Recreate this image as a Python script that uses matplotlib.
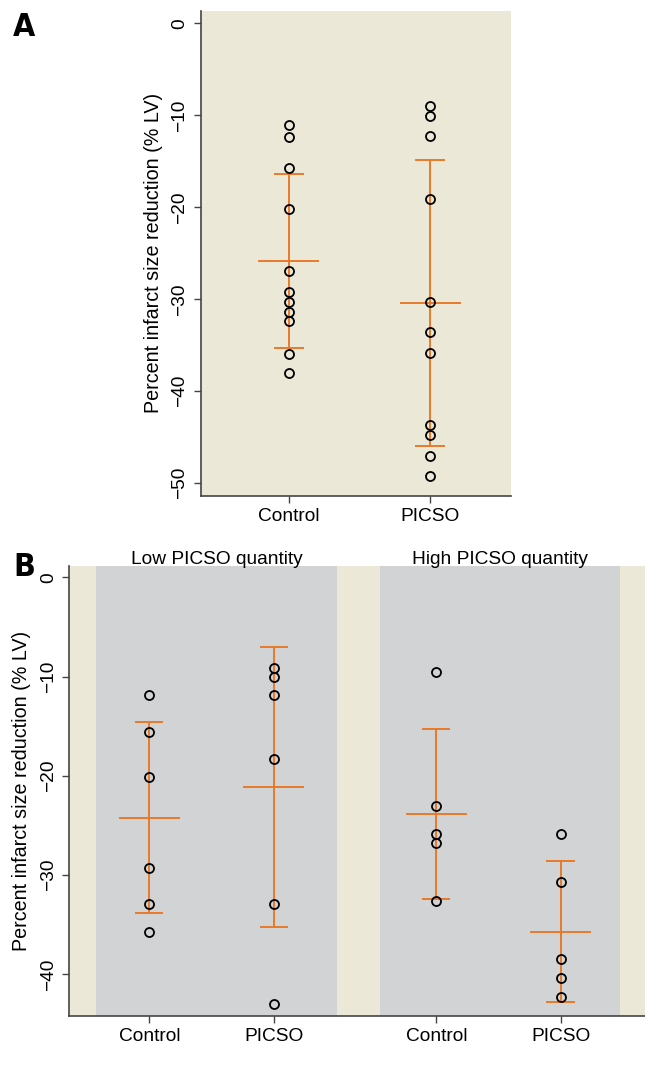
import matplotlib
matplotlib.use('Agg')
import matplotlib.pyplot as plt
import numpy as np

plt.rcParams['font.family'] = ['Liberation Sans', 'DejaVu Sans']
plt.rcParams['axes.unicode_minus'] = True

# ---- data ----
groups = ['Control', 'PICSO']

# panel A
a_control = [-11.1, -12.4, -15.7, -20.2, -26.9, -29.2, -30.3, -31.4, -32.4, -35.9, -38.0]
a_picso = [-9.0, -10.1, -12.3, -19.1, -30.3, -33.6, -35.8, -43.7, -44.8, -47.0, -49.2]
a_mean = [-25.8, -30.4]
a_sd = [9.45, 15.5]

# panel B
b_titles = ['Low PICSO quantity', 'High PICSO quantity']
b_low_control = [-11.9, -15.6, -20.1, -29.3, -32.9, -35.7]
b_low_picso = [-9.1, -10.0, -11.9, -18.3, -32.9, -43.0]
b_high_control = [-9.5, -23.0, -25.9, -26.8, -32.6]
b_high_picso = [-25.9, -30.7, -38.4, -40.4, -42.3]
b_mean = [-24.2, -21.1, -23.8, -35.7]
b_sd = [9.6, 14.1, 8.55, 7.1]

beige = '#EBE8D8'
grey = '#D1D3D4'
orange = '#E8792B'
spine = '#444444'
fs = 13.8


def style_axes(ax, yticks):
    for s in ['top', 'right']:
        ax.spines[s].set_visible(False)
    for s in ['left', 'bottom']:
        ax.spines[s].set_color(spine)
        ax.spines[s].set_linewidth(1.2)
    ax.set_yticks(yticks)
    ax.set_yticklabels([str(v).replace('-', '\u2212') for v in yticks],
                       rotation=90, va='center', fontsize=fs)
    ax.tick_params(axis='both', length=5, width=1, color=spine, pad=4)
    ax.tick_params(axis='x', labelsize=fs)
    ax.set_ylabel('Percent infarct size reduction (% LV)', fontsize=fs + 0.4, labelpad=6)


def errbar(ax, x, m, s, cap, mid):
    ax.plot([x, x], [m - s, m + s], color=orange, lw=1.4, zorder=2)
    ax.plot([x - cap, x + cap], [m + s, m + s], color=orange, lw=1.4, zorder=2)
    ax.plot([x - cap, x + cap], [m - s, m - s], color=orange, lw=1.4, zorder=2)
    ax.plot([x - mid, x + mid], [m, m], color=orange, lw=1.4, zorder=2)


def points(ax, x, vals):
    ax.plot([x] * len(vals), vals, 'o', ms=6.5, mfc='none', mec='black', mew=1.3, zorder=3)


fig = plt.figure(figsize=(6.45, 10.82), dpi=100)

# ---- panel A ----
axA = fig.add_axes([0.3116, 0.5419, 0.4806, 0.448])
axA.set_facecolor(beige)
xa = [1, 2]
for x, vals in zip(xa, [a_control, a_picso]):
    points(axA, x, vals)
for i, x in enumerate(xa):
    errbar(axA, x, a_mean[i], a_sd[i], 0.10, 0.21)
axA.set_xlim(0.38, 2.57)
axA.set_ylim(-51.35, 1.35)
axA.set_xticks(xa)
axA.set_xticklabels(groups)
style_axes(axA, [0, -10, -20, -30, -40, -50])

# ---- panel B ----
axB = fig.add_axes([0.1074, 0.0613, 0.8926, 0.4159])
axB.set_facecolor(beige)
xb = [1, 2, 3.31, 4.31]
spans = [(0.57, 2.51), (2.86, 4.79)]
for (lo, hi), t in zip(spans, b_titles):
    axB.axvspan(lo, hi, color=grey, lw=0, zorder=0)
    axB.text((lo + hi) / 2, 0.995, t, transform=axB.get_xaxis_transform(),
             ha='center', va='bottom', fontsize=fs)
for x, vals in zip(xb, [b_low_control, b_low_picso, b_high_control, b_high_picso]):
    points(axB, x, vals)
for i, x in enumerate(xb):
    errbar(axB, x, b_mean[i], b_sd[i], 0.105, 0.24)
axB.set_xlim(0.355, 4.99)
axB.set_ylim(-44.15, 1.17)
axB.set_xticks(xb)
axB.set_xticklabels(groups * 2)
style_axes(axB, [0, -10, -20, -30, -40])

# panel letters (condensed bold)
for lbl, y in [('A', 27), ('B', 567)]:
    fig.text(24 / 645, 1 - y / 1082, lbl, ha='center', va='center', fontsize=23,
             fontweight='bold', fontstretch='condensed',
             family=['Liberation Sans Narrow', 'DejaVu Sans'])

fig.savefig('out.png', dpi=100)
